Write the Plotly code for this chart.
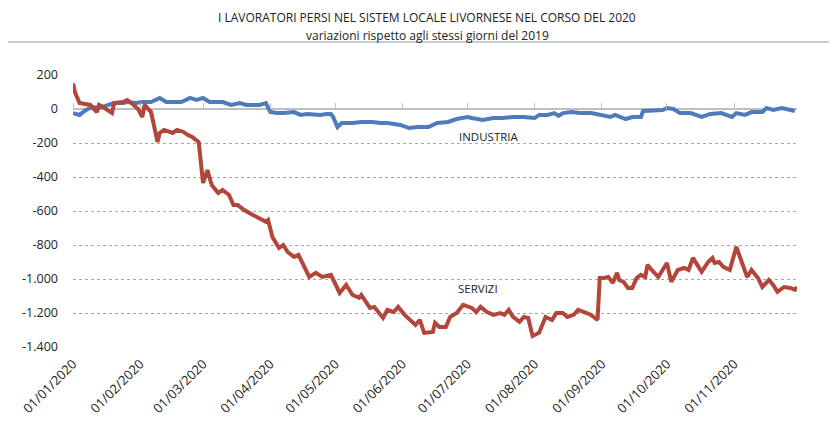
import pandas as pd
import plotly.graph_objects as go

# Day offsets from 01/01/2020 and values
servizi_days = [0, 1, 3, 6, 8, 11, 12, 14, 16, 18, 19, 21, 23, 25, 26, 28, 30, 32, 33, 34,
                36, 39, 40, 42, 44, 46, 48, 51, 53, 55, 58, 60, 62, 64, 67, 69, 72, 74, 76, 79,
                83, 86, 89, 90, 92, 95, 97, 99, 102, 104, 106, 109, 112, 115, 119, 123, 126, 129, 132, 133,
                137, 139, 143, 145, 148, 150, 153, 158, 160, 162, 166, 167, 169, 172, 174, 177, 180, 184, 186, 188,
                191, 194, 197, 199, 201, 203, 206, 208, 210, 212, 215, 218, 221, 223, 226, 228, 231, 233, 237, 239,
                242, 243, 245, 247, 249, 251, 252, 254, 256, 258, 260, 262, 264, 265, 267, 270, 274, 276, 279, 282,
                284, 286, 288, 290, 293, 295, 296, 298, 300, 303, 306, 308, 311, 313, 316, 318, 321, 323, 325, 328,
                331, 333, 334]
servizi_vals = [150, 95, 35, 30, 24, -18, 24, 10, -6, -24, 35, 38, 41, 53, 45, 24, 0, -47, 24, 10,
                -18, -194, -141, -123, -130, -141, -123, -135, -153, -165, -194, -435, -359, -447, -494, -476, -506, -565, -565, -594,
                -623, -641, -664, -653, -753, -817, -800, -841, -870, -858, -906, -988, -964, -988, -976, -1082, -1035, -1094, -1111, -1094,
                -1170, -1164, -1229, -1182, -1194, -1164, -1211, -1270, -1241, -1317, -1311, -1258, -1282, -1282, -1223, -1200, -1152, -1170, -1194, -1164,
                -1194, -1211, -1200, -1211, -1182, -1223, -1252, -1223, -1229, -1335, -1317, -1223, -1241, -1200, -1200, -1223, -1211, -1182, -1200, -1211,
                -1241, -994, -994, -988, -1023, -964, -1006, -1017, -1053, -1053, -994, -976, -988, -917, -947, -988, -906, -1017, -947, -935,
                -947, -876, -917, -958, -900, -876, -906, -900, -929, -947, -811, -888, -988, -947, -994, -1047, -1006, -1035, -1076, -1047,
                -1053, -1064, -1047]

industria_days = [0, 3, 6, 9, 12, 16, 19, 23, 25, 29, 32, 36, 40, 43, 47, 50, 54, 57, 60, 63,
                  66, 69, 73, 77, 80, 83, 86, 89, 91, 94, 97, 102, 105, 108, 111, 114, 117, 119, 120, 122,
                  124, 129, 133, 138, 142, 145, 151, 155, 159, 164, 168, 173, 177, 182, 184, 189, 194, 198, 203, 208,
                  213, 215, 219, 222, 224, 226, 230, 234, 239, 243, 248, 250, 255, 258, 262, 263, 268, 272, 274, 277,
                  280, 285, 290, 294, 299, 304, 306, 310, 313, 318, 320, 323, 327, 330, 333]
industria_vals = [-24, -35, -6, 12, 6, 24, 35, 35, 41, 35, 41, 41, 65, 41, 41, 41, 65, 53, 65, 41,
                  41, 41, 24, 35, 24, 24, 24, 35, -18, -24, -24, -18, -35, -30, -35, -35, -30, -29, -47, -106,
                  -82, -82, -76, -76, -82, -82, -94, -112, -106, -106, -82, -76, -59, -47, -53, -65, -53, -53, -47, -47,
                  -53, -35, -35, -24, -41, -24, -18, -24, -24, -35, -47, -35, -59, -47, -47, -12, -6, -6, 6, 0,
                  -24, -24, -47, -29, -24, -47, -24, -35, -18, -18, 6, -6, 6, -6, -12]

y_tickvals = [200, 0, -200, -400, -600, -800, -1000, -1200, -1400]
y_ticktext = ["200", "0", "-200", "-400", "-600", "-800", "-1.000", "-1.200", "-1.400"]

title_line1 = "I LAVORATORI PERSI NEL SISTEM LOCALE LIVORNESE NEL CORSO DEL 2020"
title_line2 = "variazioni rispetto agli stessi giorni del 2019"

start = pd.Timestamp("2020-01-01")
x_serv = start + pd.to_timedelta(servizi_days, unit="D")
x_ind = start + pd.to_timedelta(industria_days, unit="D")

font_family = "Open Sans, Liberation Sans, sans-serif"

fig = go.Figure()
fig.add_trace(go.Scatter(x=x_ind, y=industria_vals, mode="lines", name="INDUSTRIA",
                         line=dict(color="#4F7BBD", width=4), xaxis="x", yaxis="y",
                         showlegend=False))
fig.add_trace(go.Scatter(x=x_serv, y=servizi_vals, mode="lines", name="SERVIZI",
                         line=dict(color="#B3463A", width=4), xaxis="x2", yaxis="y",
                         showlegend=False))

# the page body has an 8px margin, so the figure is 8px smaller on each side
fig.update_layout(
    width=829, height=413,
    margin=dict(l=65, r=40, t=67, b=74, autoexpand=False),
    paper_bgcolor="white", plot_bgcolor="white",
    font=dict(family=font_family, size=12, color="#222222"),
    xaxis=dict(range=["2020-01-01", "2020-11-30"], tickformat="%d/%m/%Y", dtick="M1",
               tick0="2020-01-01", tickangle=-45, showgrid=False, zeroline=False,
               showline=False, ticks="", ticklabelstandoff=6,
               tickfont=dict(size=13), automargin=False),
    xaxis2=dict(matches="x", overlaying="x", anchor="free", position=0.875, side="top",
                dtick="M1", tick0="2020-01-01", ticks="outside", ticklen=6, tickcolor="#BFBFBF",
                showticklabels=False, showgrid=False, zeroline=False, showline=False,
                automargin=False),
    yaxis=dict(range=[-1400, 200], tickvals=y_tickvals, ticktext=y_ticktext,
               showgrid=True, gridcolor="#A6A6A6", griddash="dot", gridwidth=1,
               zeroline=True, zerolinecolor="#BFBFBF", zerolinewidth=1.5,
               showline=False, ticks="", ticklabelstandoff=14,
               tickfont=dict(size=12.5), automargin=False),
    shapes=[dict(type="line", xref="paper", yref="paper", x0=-0.095, x1=1.045,
                 y0=1.121, y1=1.121, line=dict(color="#C8CDD3", width=2))],
    annotations=[
        dict(x=0.489, y=1.21, xref="paper", yref="paper", text=title_line1, showarrow=False,
             xanchor="center", yanchor="middle", font=dict(size=12, color="#222222")),
        dict(x=0.489, y=1.147, xref="paper", yref="paper", text=title_line2, showarrow=False,
             xanchor="center", yanchor="middle", font=dict(size=12, color="#222222")),
        dict(x="2020-07-11", y=-160, xref="x", yref="y", text="INDUSTRIA", showarrow=False,
             font=dict(size=11.5, color="#222222")),
        dict(x="2020-07-06", y=-1053, xref="x", yref="y", text="SERVIZI", showarrow=False,
             font=dict(size=11.5, color="#222222")),
    ],
)

fig.write_html("out.html")
